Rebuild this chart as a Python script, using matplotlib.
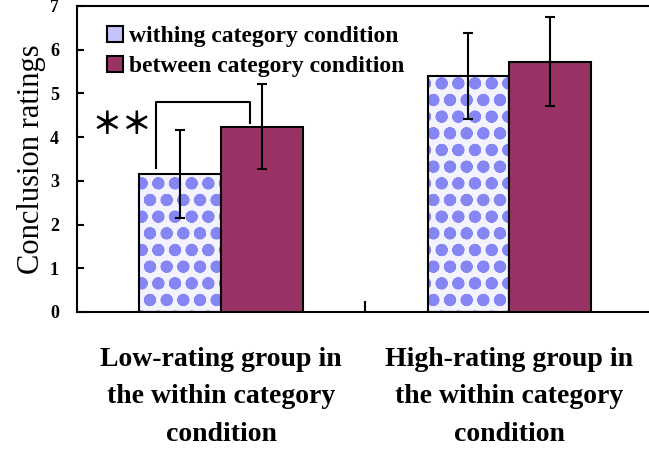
import numpy as np
import matplotlib
matplotlib.use('Agg')
import matplotlib.pyplot as plt

groups = ['Low-rating group in\nthe within category\ncondition',
          'High-rating group in\nthe within category\ncondition']
series = ['withing category condition', 'between category condition']
within_vals = [3.16, 5.40]
within_err = [1.01, 0.98]
between_vals = [4.24, 5.73]
between_err = [0.98, 1.02]

plt.rcParams['hatch.linewidth'] = 4.0
serif = 'Liberation Serif'

fig = plt.figure(figsize=(6.49, 4.5), dpi=100)
ax = fig.add_axes([0.1186, 0.3067, 0.8884, 0.68])

x = np.arange(len(groups))
w = 0.284
# dotted bars: pattern first, then black outline
ax.bar(x - w / 2, within_vals, w, color='#f3f3ff', edgecolor='#8585f4',
       hatch='o', linewidth=0, zorder=2)
ax.bar(x - w / 2, within_vals, w, facecolor='none', edgecolor='black',
       linewidth=1.5, zorder=3, label=series[0])
ax.bar(x + w / 2, between_vals, w, color='#993366', edgecolor='black',
       linewidth=1.5, zorder=3, label=series[1])
ax.errorbar(x - w / 2, within_vals, yerr=within_err, fmt='none', ecolor='black',
            elinewidth=1.5, capsize=3.5, capthick=1.5, zorder=4)
ax.errorbar(x + w / 2, between_vals, yerr=between_err, fmt='none', ecolor='black',
            elinewidth=1.5, capsize=3.5, capthick=1.5, zorder=4)

# significance bracket
ax.plot([-0.225, -0.225, 0.10, 0.10], [3.30, 4.81, 4.81, 4.33], color='black',
        linewidth=1.5, zorder=4)
ax.text(-0.343, 4.28, '＊＊', fontsize=22, fontweight='bold', ha='center',
        va='center', family=['Noto Sans CJK SC', 'DejaVu Sans'])

ax.set_xlim(-0.5, 1.5)
ax.set_ylim(0, 7)
ax.set_yticks(range(8))
ax.set_yticklabels([str(i) for i in range(8)], fontsize=13, fontweight='bold',
                   family=serif)
ax.tick_params(axis='y', direction='in', length=5, width=1.5, pad=13)
ax.set_xticks([0.5])
ax.set_xticklabels([''])
ax.tick_params(axis='x', direction='in', length=8, width=1.5)
ax.set_xticks(x, minor=True)
ax.set_xticklabels(groups, minor=True, fontsize=20, fontweight='bold',
                   family=serif, linespacing=1.66)
ax.tick_params(axis='x', which='minor', length=0, pad=25)
for s in ax.spines.values():
    s.set_linewidth(1.5)

ax.set_ylabel('Conclusion ratings', fontsize=22, family=serif, labelpad=3)

leg = ax.legend(loc='upper left', bbox_to_anchor=(0.018, 1.0), frameon=False,
                prop={'family': serif, 'weight': 'bold', 'size': 17},
                handlelength=0.65, handleheight=0.65, handletextpad=0.25,
                labelspacing=0.38, borderaxespad=0.45)
# legend swatch for dotted series shown with a light blue fill
leg.legend_handles[0].set_facecolor('#c4c4fa')

fig.savefig('out.png', dpi=100)
